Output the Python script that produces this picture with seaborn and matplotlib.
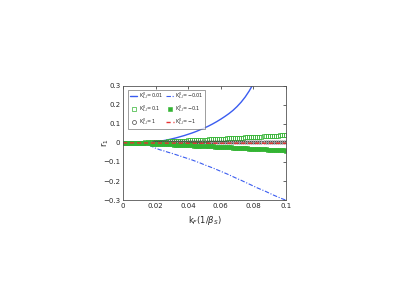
import numpy as np
import pandas as pd
import matplotlib
matplotlib.use('Agg')
import matplotlib.pyplot as plt
import seaborn as sns

# x grid for the lines (k_F)
k_f = [0.0, 0.0025, 0.005, 0.0075, 0.01, 0.0125, 0.015, 0.0175, 0.02, 0.0225,
       0.025, 0.0275, 0.03, 0.0325, 0.035, 0.0375, 0.04, 0.0425, 0.045, 0.0475,
       0.05, 0.0525, 0.055, 0.0575, 0.06, 0.0625, 0.065, 0.0675, 0.07, 0.0725,
       0.075, 0.0775, 0.08, 0.0825, 0.085, 0.0875, 0.09, 0.0925, 0.095, 0.0975, 0.1]

# finer x grid for the marker series
k_f_fine = [0.0, 0.00125, 0.0025, 0.00375, 0.005, 0.00625, 0.0075, 0.00875, 0.01, 0.01125,
            0.0125, 0.01375, 0.015, 0.01625, 0.0175, 0.01875, 0.02, 0.02125, 0.0225, 0.02375,
            0.025, 0.02625, 0.0275, 0.02875, 0.03, 0.03125, 0.0325, 0.03375, 0.035, 0.03625,
            0.0375, 0.03875, 0.04, 0.04125, 0.0425, 0.04375, 0.045, 0.04625, 0.0475, 0.04875,
            0.05, 0.05125, 0.0525, 0.05375, 0.055, 0.05625, 0.0575, 0.05875, 0.06, 0.06125,
            0.0625, 0.06375, 0.065, 0.06625, 0.0675, 0.06875, 0.07, 0.07125, 0.0725, 0.07375,
            0.075, 0.07625, 0.0775, 0.07875, 0.08, 0.08125, 0.0825, 0.08375, 0.085, 0.08625,
            0.0875, 0.08875, 0.09, 0.09125, 0.0925, 0.09375, 0.095, 0.09625, 0.0975, 0.09875, 0.1]

r_pos001 = [0, 0, 0, 0, 0, 0.001, 0.002, 0.004, 0.006, 0.009,
            0.012, 0.016, 0.021, 0.026, 0.032, 0.038, 0.045, 0.052, 0.060, 0.069,
            0.078, 0.088, 0.099, 0.111, 0.124, 0.138, 0.153, 0.170, 0.190, 0.213,
            0.240, 0.272, 0.310, 0.355, 0.40, 0.45, 0.50, 0.56, 0.62, 0.68, 0.75]

r_neg001 = [0, 0, 0, 0, 0, -0.002, -0.008, -0.018, -0.028, -0.036,
            -0.042, -0.049, -0.055, -0.062, -0.069, -0.076, -0.083, -0.090, -0.098, -0.106,
            -0.115, -0.123, -0.131, -0.140, -0.149, -0.158, -0.167, -0.177, -0.187, -0.196,
            -0.206, -0.216, -0.226, -0.236, -0.245, -0.254, -0.264, -0.274, -0.283, -0.292, -0.300]

r_pos01 = [0, 0, 0, 0, 0, 0, 0, 0,
           0.0005, 0.001, 0.0015, 0.002, 0.0025, 0.003, 0.0035, 0.004, 0.0045, 0.005, 0.0055,
           0.006, 0.0065, 0.007, 0.0075, 0.008, 0.0085, 0.009, 0.0095, 0.010, 0.0105, 0.011,
           0.0115, 0.012, 0.0125, 0.013, 0.0135, 0.014, 0.0145, 0.015, 0.0155, 0.016, 0.0165,
           0.017, 0.0176, 0.0182, 0.0188, 0.0194, 0.020, 0.0206, 0.0212, 0.0218, 0.0224,
           0.023, 0.0236, 0.0242, 0.0248, 0.0254, 0.026, 0.0266, 0.0272, 0.0278, 0.0284,
           0.029, 0.0296, 0.0302, 0.0308, 0.0314, 0.032, 0.0326, 0.0332, 0.0338, 0.0344,
           0.035, 0.0356, 0.0362, 0.0368, 0.0374, 0.038, 0.0386, 0.0392, 0.0398, 0.0404]

r_neg01 = [0, 0, 0, 0, 0, 0, 0, 0,
           -0.0005, -0.001, -0.0015, -0.002, -0.0025, -0.003, -0.0035, -0.004, -0.0045, -0.005, -0.0055,
           -0.006, -0.0065, -0.007, -0.0075, -0.008, -0.0085, -0.009, -0.0095, -0.010, -0.0105, -0.011,
           -0.0115, -0.012, -0.0125, -0.013, -0.0135, -0.014, -0.0145, -0.015, -0.0155, -0.016, -0.0165,
           -0.017, -0.0176, -0.0182, -0.0188, -0.0194, -0.020, -0.0206, -0.0212, -0.0218, -0.0224,
           -0.023, -0.0236, -0.0242, -0.0248, -0.0254, -0.026, -0.0266, -0.0272, -0.0278, -0.0284,
           -0.029, -0.0296, -0.0302, -0.0308, -0.0314, -0.032, -0.0326, -0.0332, -0.0338, -0.0344,
           -0.035, -0.0356, -0.0362, -0.0368, -0.0374, -0.038, -0.0386, -0.0392, -0.0398, -0.0404]

r_pos1 = [0, 0, 0, 0, 0, 0, 0, 0, 0,
          0.0003, 0.0006, 0.0009, 0.0012, 0.0015, 0.0018, 0.0021, 0.0024, 0.0026, 0.0028,
          0.003, 0.0032, 0.0034, 0.0035, 0.0036, 0.0037, 0.0038, 0.0039, 0.004, 0.0041,
          0.0042, 0.0043, 0.0044, 0.0045,
          0.0045, 0.0045, 0.0045, 0.0045, 0.0045, 0.0045, 0.0045, 0.0045, 0.0045, 0.0045,
          0.005, 0.005, 0.005, 0.005, 0.005, 0.005, 0.005, 0.005, 0.005, 0.005,
          0.005, 0.005, 0.005, 0.005, 0.005, 0.005, 0.005, 0.005, 0.005, 0.005,
          0.0055, 0.0055, 0.0055, 0.0055, 0.0055, 0.0055, 0.0055, 0.0055, 0.0055, 0.0055,
          0.0055, 0.0055, 0.0055, 0.0055, 0.0055, 0.0055, 0.0055, 0.0055]

r_neg1 = [0, 0, 0, 0, -0.0005, -0.0005, -0.001, -0.001, -0.001, -0.001,
          -0.0015, -0.0015, -0.0015, -0.0015, -0.0015, -0.0015, -0.002, -0.002, -0.002, -0.002,
          -0.002, -0.002, -0.002, -0.002, -0.002, -0.002, -0.002, -0.002, -0.002, -0.002,
          -0.002, -0.002, -0.002, -0.002, -0.002, -0.002, -0.002, -0.002, -0.002, -0.002, -0.002]

lab_pos001 = r'K$^0_{L,l}$=0.01'
lab_neg001 = r'K$^0_{L,l}$=$-$0.01'
lab_pos01 = r'K$^0_{L,l}$=0.1'
lab_neg01 = r'K$^0_{L,l}$=$-$0.1'
lab_pos1 = r'K$^0_{L,l}$=1'
lab_neg1 = r'K$^0_{L,l}$=$-$1'

sns.set_style('white')
plt.rcParams['font.family'] = ['DejaVu Sans']
plt.rcParams['xtick.direction'] = 'in'
plt.rcParams['ytick.direction'] = 'in'

fig = plt.figure(figsize=(4.09, 2.88), dpi=100)
ax = fig.add_axes([0.301, 0.305, 0.398, 0.398])

blue = '#3a5cf0'
green = '#33b433'

sns.lineplot(x=k_f, y=r_pos001, ax=ax, color=blue, lw=1.0, label=lab_pos001)
sns.lineplot(x=k_f_fine, y=r_pos01, ax=ax, color=green, lw=0, marker='s', markersize=2.2,
             markerfacecolor='none', markeredgecolor=green, markeredgewidth=0.5, label=lab_pos01)
sns.lineplot(x=k_f_fine, y=r_pos1, ax=ax, color='#444444', lw=0, marker='o', markersize=2.2,
             markerfacecolor='none', markeredgecolor='#444444', markeredgewidth=0.5, label=lab_pos1)
sns.lineplot(x=k_f, y=r_neg001, ax=ax, color=blue, lw=0.8, label=lab_neg001)
ax.lines[-1].set_linestyle((0, (4, 1.5, 1, 1.5)))
sns.lineplot(x=k_f_fine, y=r_neg01, ax=ax, color=green, lw=0, marker='s', markersize=2.2,
             markerfacecolor=green, markeredgecolor=green, markeredgewidth=0.4, label=lab_neg01)
sns.lineplot(x=k_f, y=r_neg1, ax=ax, color='#e83030', lw=1.0, label=lab_neg1)
ax.lines[-1].set_linestyle((0, (3, 2)))

ax.set_xlim(0, 0.1)
ax.set_ylim(-0.3, 0.3)
ax.set_xticks([0, 0.02, 0.04, 0.06, 0.08, 0.1])
ax.set_xticklabels(['0', '0.02', '0.04', '0.06', '0.08', '0.1'])
ax.set_yticks([-0.3, -0.2, -0.1, 0, 0.1, 0.2, 0.3])
ax.set_yticklabels(['\u22120.3', '\u22120.2', '\u22120.1', '0', '0.1', '0.2', '0.3'])
ax.tick_params(labelsize=5, length=2, width=0.5, pad=2, top=True, right=True)
for s in ax.spines.values():
    s.set_color('#555555')
    s.set_linewidth(0.6)

ax.set_xlabel(r'k$_F$(1/$\beta_S$)', fontsize=6, labelpad=4)
ax.set_ylabel(r'r$_1$', fontsize=6)
ax.yaxis.set_label_coords(-0.075, 0.5)

# legend markers a bit larger than plot markers
leg = ax.legend(ncol=2, loc='upper left', fontsize=3.5, frameon=True, fancybox=False,
                edgecolor='#555555', handlelength=1.6, handletextpad=0.3,
                columnspacing=0.5, borderpad=0.35, labelspacing=0.55, markerscale=1.3,
                bbox_to_anchor=(0.015, 0.985))
leg.get_frame().set_linewidth(0.5)

fig.savefig('out.png', dpi=100)
